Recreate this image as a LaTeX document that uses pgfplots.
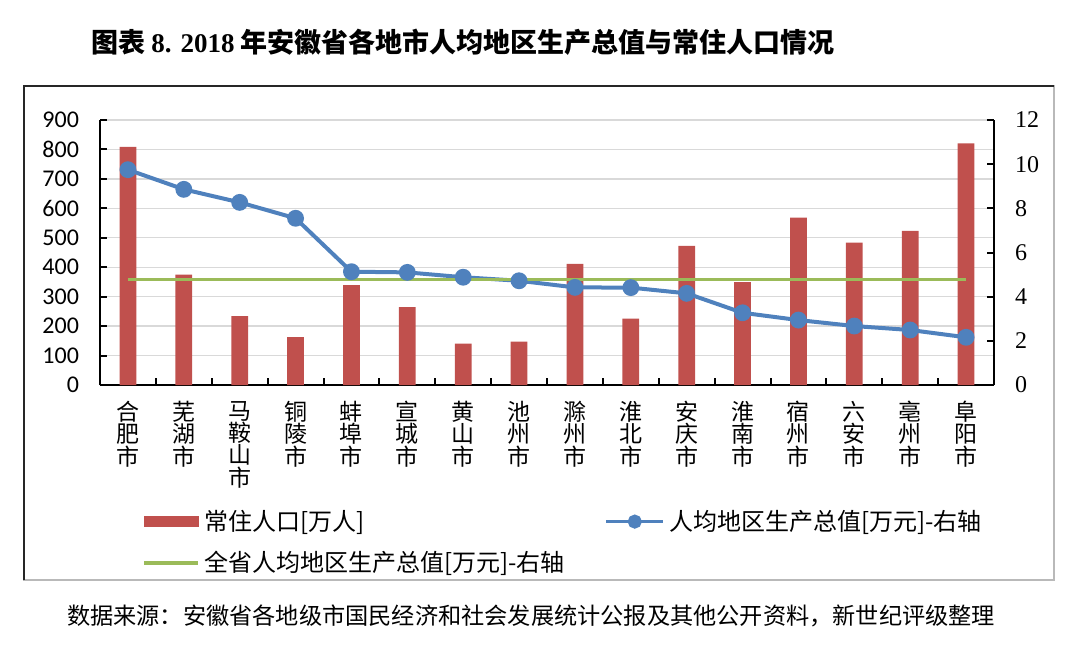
\documentclass[border=0pt]{standalone}
\usepackage{fontspec}
\usepackage{pgfplots}
\pgfplotsset{compat=1.18}
\setmainfont{Carlito}
\newfontfamily\cjk{Noto Sans CJK SC}
\newfontfamily\tnr{Liberation Serif}

\definecolor{barred}{HTML}{C0504D}
\definecolor{lineblue}{HTML}{4F81BD}
\definecolor{linegreen}{HTML}{9BBB59}
\definecolor{gridgray}{HTML}{D9D9D9}

\pgfplotsset{
  common/.style={
    at={(50pt,137pt)}, anchor=south west,
    scale only axis, width=447pt, height=132.5pt,
    xmin=-0.5, xmax=15.5,
    axis line style={line width=1pt, black},
    tick align=inside,
    major tick length=3.5pt,
    tick style={black, line width=1pt},
    /pgf/number format/assume math mode=true,
  }
}

\begin{document}
\begin{tikzpicture}
\path (0,0) rectangle (540pt,329.5pt);

% frame
\draw[gray!55, line width=0.8pt] (12pt,39.5pt) rectangle (527pt,286.5pt);
\draw[black!85, line width=1pt] (12pt,39.5pt) -- (12pt,286.5pt) -- (527pt,286.5pt);

\begin{axis}[common,
  ymin=0, ymax=900, ytick={0,100,...,900},
  axis x line*=bottom, axis y line*=left,
  ymajorgrids, grid style={gridgray, line width=0.7pt},
  xtick={0,...,15},
  major x tick style={draw=none},
  minor xtick={-0.5,0.5,...,15.5},
  minor tick length=3.5pt,
  minor x tick style={black, line width=1pt},
  xticklabels={合\\肥\\市, 芜\\湖\\市, 马\\鞍\\山\\市, 铜\\陵\\市, 蚌\\埠\\市, 宣\\城\\市, 黄\\山\\市, 池\\州\\市,
    滁\\州\\市, 淮\\北\\市, 安\\庆\\市, 淮\\南\\市, 宿\\州\\市, 六\\安\\市, 亳\\州\\市, 阜\\阳\\市},
  xticklabel style={font=\cjk\fontsize{11.5}{11.2}\selectfont, align=center, anchor=north, yshift=-4.5pt},
  yticklabel style={font=\fontsize{12}{14}\selectfont, xshift=-7pt},
]
\addplot[ybar, bar width=8.4pt, fill=barred, draw=none] coordinates {
  (0,808.7) (1,374.8) (2,233.7) (3,162.9) (4,339.2) (5,264.8) (6,140.7) (7,147.4)
  (8,411.4) (9,225.4) (10,472.3) (11,349.0) (12,568.1) (13,483.7) (14,523.7) (15,820.7)
};
\end{axis}

\begin{axis}[common,
  ymin=0, ymax=12, ytick={0,2,...,12},
  axis x line=none, axis y line*=right,
  yticklabel style={font=\tnr\fontsize{12}{14}\selectfont, xshift=7pt},
  legend columns=2,
  legend cell align=left,
  legend style={draw=none, fill=none, inner sep=0pt,
    at={(0.047,-0.455)}, anchor=north west,
    font=\cjk\fontsize{12}{14}\selectfont,
    row sep=5pt,
    /tikz/every even column/.append style={column sep=18pt}},
]
\addlegendimage{legend image code/.code={\fill[barred] (0pt,-2.6pt) rectangle (27pt,2.6pt);}}
\addlegendentry{常住人口[万人]}

\addplot[color=lineblue, line width=2pt, mark=*, mark size=3.2pt,
  mark options={fill=lineblue, draw=lineblue},
  legend image code/.code={\draw[lineblue, line width=1.8pt] (0pt,0pt) -- (28.5pt,0pt); \fill[lineblue] (14.2pt,0pt) circle (2.5pt);}]
coordinates {
  (0,9.75) (1,8.86) (2,8.27) (3,7.55) (4,5.13) (5,5.10) (6,4.88) (7,4.72)
  (8,4.42) (9,4.41) (10,4.15) (11,3.27) (12,2.94) (13,2.67) (14,2.49) (15,2.16)
};
\addlegendentry{人均地区生产总值[万元]-右轴}

\addplot[color=linegreen, line width=1.8pt,
  legend image code/.code={\draw[linegreen, line width=1.8pt] (0pt,0pt) -- (27pt,0pt);}]
coordinates {(0,4.77) (15,4.77)};
\addlegendentry{全省人均地区生产总值[万元]-右轴}
\end{axis}

% title and source
\node[font=\cjk\bfseries\fontsize{13.5}{16}\selectfont] at (231.5pt,308.5pt)
  {图表 {\tnr\bfseries 8. 2018} 年安徽省各地市人均地区生产总值与常住人口情况};
\node[font=\cjk\fontsize{11.6}{14}\selectfont] at (265.5pt,21.5pt)
  {数据来源：安徽省各地级市国民经济和社会发展统计公报及其他公开资料，新世纪评级整理};
\end{tikzpicture}
\end{document}
